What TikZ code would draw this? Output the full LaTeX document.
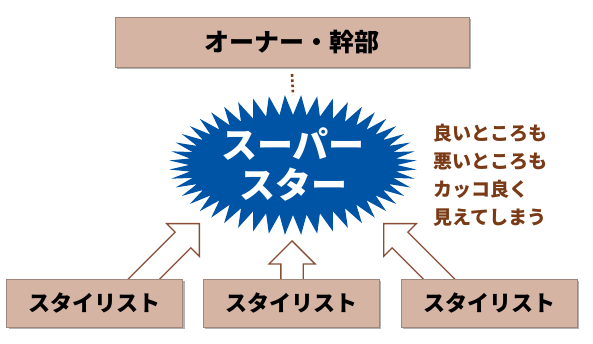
\documentclass[tikz,border=0pt]{standalone}
\usepackage{fontspec}
\newfontfamily\jp{Noto Sans CJK JP}
\usetikzlibrary{arrows.meta,positioning,shapes.geometric,shapes.arrows,shadows,calc}
\definecolor{boxtan}{RGB}{214,180,164}
\definecolor{starblue}{RGB}{0,84,166}
\definecolor{notebrown}{RGB}{122,58,22}
\definecolor{arrowbrown}{RGB}{138,78,54}
\tikzset{
  rolebox/.style={rectangle, fill=boxtan, draw=boxtan!75!black, line width=0.4pt, minimum height=48pt, minimum width=176pt, inner sep=0pt, font=\jp\bfseries\fontsize{22}{26}\selectfont, drop shadow={shadow xshift=2pt, shadow yshift=-2pt, fill=black!50, opacity=0.6}},
  blockarrow/.style={single arrow, draw=arrowbrown, line width=1.3pt, fill=white, inner xsep=0pt, inner ysep=10.5pt, single arrow head extend=12pt, minimum width=0pt, anchor=tip},
  startext/.style={align=center, text=white, font=\jp\bfseries\fontsize{36}{40}\selectfont},
  notes/.style={align=left, text=notebrown, inner sep=0pt, font=\jp\bfseries\fontsize{19}{28}\selectfont},
  link/.style={notebrown, line width=2.6pt, dash pattern=on 2.6pt off 2.6pt}
}
\begin{document}
\begin{tikzpicture}[x=1pt, y=1pt]
\useasboundingbox (0,0) rectangle (593,344);
% block arrows (behind the boxes)
\node[blockarrow, rotate=45, minimum height=100pt] (upL) at (200,121) {};
\node[blockarrow, rotate=90, minimum height=58pt] (upM) at (292,104) {};
\node[blockarrow, rotate=135, minimum height=100pt] (upR) at (383,121) {};
% boxes
\node[rolebox, minimum width=354pt, minimum height=50pt, font=\jp\bfseries\fontsize{25}{28}\selectfont] (owner) at (292,302) {オーナー・幹部};
\node[rolebox] (styM) at (291,41) {スタイリスト};
\node[rolebox, left=20pt of styM] (styL) {スタイリスト};
\node[rolebox, right=22pt of styM] (styR) {スタイリスト};
% spiky star
\coordinate (starc) at (293,179);
\coordinate (startop) at ($(starc)+(0,70)$);
\fill[starblue, shift={(starc)}] plot[domain=0:96, samples=97]
  ({cos(\x*3.75)*(104+20*mod(\x,2))}, {sin(\x*3.75)*(50+20*mod(\x,2))}) -- cycle;
\node[startext] (star) at (starc) {スーパー\\スター};
\draw[link] ($(owner.south)+(0,-7)$) -- (startop);
% side remark
\node[notes, anchor=west] (remark) at (433,169) {良いところも\\悪いところも\\カッコ良く\\見えてしまう};
\end{tikzpicture}
\end{document}
